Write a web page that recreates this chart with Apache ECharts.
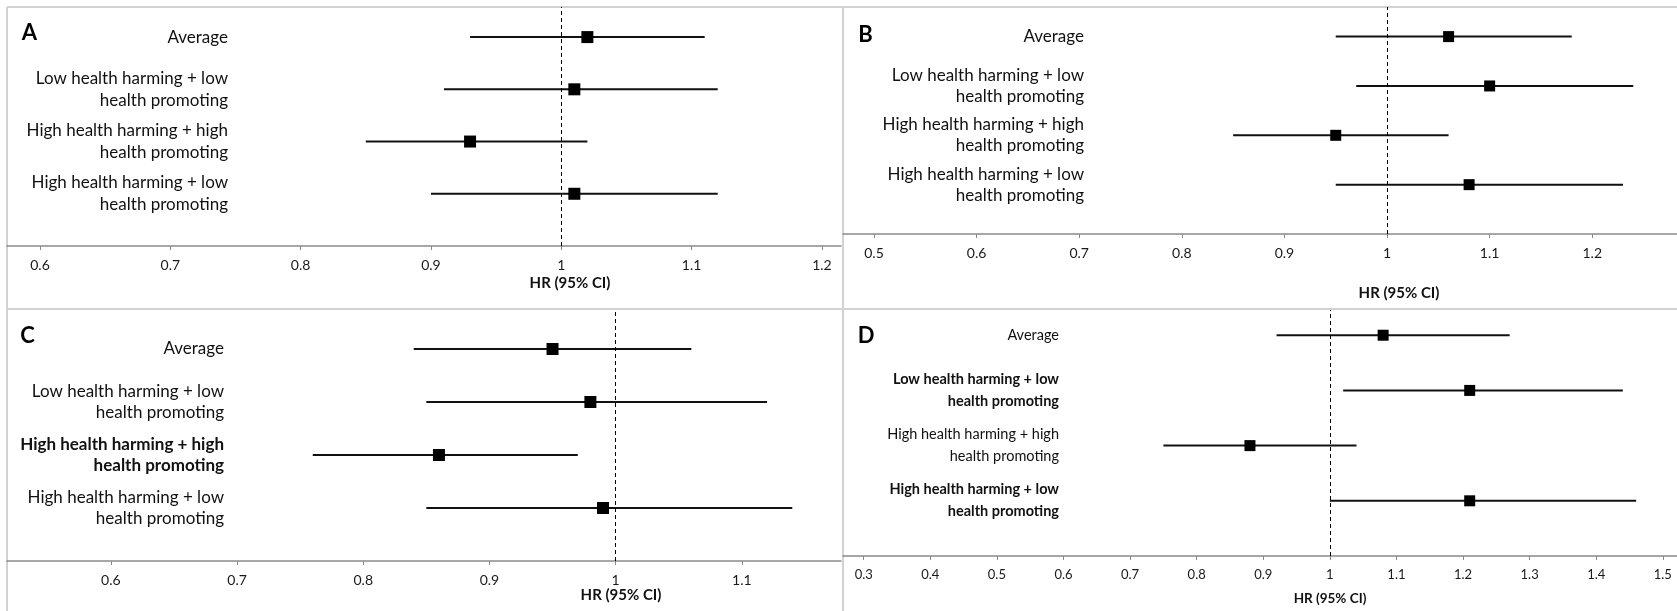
<!DOCTYPE html>
<html><head><meta charset="utf-8">
<script src="https://cdn.jsdelivr.net/npm/echarts@6/dist/echarts.min.js"></script>
<style>html,body{margin:0;padding:0;background:#fff}#c{width:1677px;height:611px}</style>
</head><body><div id="c"></div>
<script>
// ---------- data ----------
const rowLabels = [
  'Average',
  'Low health harming + low\nhealth promoting',
  'High health harming + high\nhealth promoting',
  'High health harming + low\nhealth promoting'
];
const rowPos = [4, 3, 2, 1];

const estA  = [1.02, 1.01, 0.93, 1.01];
const lowA  = [0.93, 0.91, 0.85, 0.90];
const highA = [1.11, 1.12, 1.02, 1.12];

const estB  = [1.06, 1.10, 0.95, 1.08];
const lowB  = [0.95, 0.97, 0.85, 0.95];
const highB = [1.18, 1.24, 1.06, 1.23];

const estC  = [0.95, 0.98, 0.86, 0.99];
const lowC  = [0.84, 0.85, 0.76, 0.85];
const highC = [1.06, 1.12, 0.97, 1.14];

const estD  = [1.08, 1.21, 0.88, 1.21];
const lowD  = [0.92, 1.02, 0.75, 1.00];
const highD = [1.27, 1.44, 1.04, 1.46];

const ticksA = [0.6, 0.7, 0.8, 0.9, 1, 1.1, 1.2];
const ticksB = [0.5, 0.6, 0.7, 0.8, 0.9, 1, 1.1, 1.2];
const ticksC = [0.6, 0.7, 0.8, 0.9, 1, 1.1];
const ticksD = [0.3, 0.4, 0.5, 0.6, 0.7, 0.8, 0.9, 1, 1.1, 1.2, 1.3, 1.4, 1.5];

const boldA = [], boldB = [], boldC = [2], boldD = [1, 3];
const panelLetters = ['A', 'B', 'C', 'D'];
const axisTitle = 'HR (95% CI)';
const refValue = 1;

// ---------- layout ----------
const FONT = 'Lato, "Noto Sans", sans-serif';
const panels = [
  {letter: panelLetters[0], est: estA, low: lowA, high: highA, ticks: ticksA, bold: boldA,
   left: 7, top: 7, width: 834, height: 239, xmin: 0.5747, xmax: 1.2146, ymax: 4.576,
   labelRight: 228, font: 17, lh: 22, tickFont: 14, titleFont: 15, sym: 12,
   letterPos: [29.5, 32.5], titlePos: [570, 283]},
  {letter: panelLetters[1], est: estB, low: lowB, high: highB, ticks: ticksB, bold: boldB,
   left: 843, top: 7, width: 834, height: 227, xmin: 0.4698, xmax: 1.2826, ymax: 4.60,
   labelRight: 1084, font: 17, lh: 21, tickFont: 14, titleFont: 15, sym: 11,
   letterPos: [865.5, 35], titlePos: [1399, 293]},
  {letter: panelLetters[2], est: estC, low: lowC, high: highC, ticks: ticksC, bold: boldC,
   left: 7, top: 310, width: 834, height: 251, xmin: 0.5177, xmax: 1.1786, ymax: 4.736,
   labelRight: 224, font: 17, lh: 21, tickFont: 14, titleFont: 15, sym: 12,
   letterPos: [27.5, 335.5], titlePos: [621, 595]},
  {letter: panelLetters[3], est: estD, low: lowD, high: highD, ticks: ticksD, bold: boldD,
   left: 843, top: 310, width: 834, height: 246, xmin: 0.2689, xmax: 1.5213, ymax: 4.457,
   labelRight: 1059, font: 14.5, lh: 22, tickFont: 13, titleFont: 13.5, sym: 11,
   letterPos: [866, 336], titlePos: [1330, 599]}
];

const grid = [], xAxis = [], yAxis = [], series = [], graphic = [];
const BORDER = '#d2d2d2';
graphic.push(
  {type: 'line', shape: {x1: 7, y1: 7, x2: 1677, y2: 7}, style: {stroke: BORDER, lineWidth: 2}},
  {type: 'line', shape: {x1: 7, y1: 7, x2: 7, y2: 611}, style: {stroke: BORDER, lineWidth: 2}},
  {type: 'line', shape: {x1: 843, y1: 7, x2: 843, y2: 611}, style: {stroke: BORDER, lineWidth: 2}},
  {type: 'line', shape: {x1: 7, y1: 309, x2: 1677, y2: 309}, style: {stroke: BORDER, lineWidth: 2}}
);

panels.forEach((p, k) => {
  grid.push({left: p.left, top: p.top, width: p.width, height: p.height, containLabel: false});
  xAxis.push({
    type: 'value', gridIndex: k, min: p.xmin, max: p.xmax,
    axisLine: {show: true, lineStyle: {color: '#8a8a8a', width: 1.5}},
    axisTick: {show: true, length: 4, customValues: p.ticks, lineStyle: {color: '#8a8a8a', width: 1}},
    axisLabel: {show: true, customValues: p.ticks, margin: 12, color: '#1a1a1a',
      fontFamily: FONT, fontSize: p.tickFont, formatter: v => String(+v.toFixed(2))},
    splitLine: {show: false}
  });
  const rich = {
    n: {fontFamily: FONT, fontSize: p.font, fontWeight: 'normal', color: '#111', align: 'right', lineHeight: p.lh},
    b: {fontFamily: FONT, fontSize: p.font, fontWeight: 'bold', color: '#111', align: 'right', lineHeight: p.lh}
  };
  yAxis.push({
    type: 'value', gridIndex: k, min: 0, max: p.ymax, interval: 1,
    axisLine: {show: false}, axisTick: {show: false}, splitLine: {show: false},
    axisLabel: {
      show: true, customValues: rowPos, margin: -(p.labelRight - p.left), align: 'right',
      rich: rich,
      formatter: v => {
        const i = rowPos.indexOf(Math.round(v));
        if (i < 0 || Math.abs(v - Math.round(v)) > 1e-6) return '';
        const tag = p.bold.indexOf(i) >= 0 ? 'b' : 'n';
        return rowLabels[i].split('\n').map(s => '{' + tag + '|' + s + '}').join('\n');
      }
    }
  });
  series.push({
    type: 'custom', xAxisIndex: k, yAxisIndex: k, silent: true, z: 2,
    data: p.low.map((l, i) => [l, p.high[i], rowPos[i]]),
    encode: {x: [0, 1], y: 2},
    renderItem: (params, api) => {
      const y = api.value(2);
      const a = api.coord([api.value(0), y]);
      const b = api.coord([api.value(1), y]);
      return {type: 'line', shape: {x1: a[0], y1: a[1], x2: b[0], y2: b[1]},
              style: {stroke: '#111', lineWidth: 2}};
    }
  });
  series.push({
    type: 'scatter', xAxisIndex: k, yAxisIndex: k, silent: true, z: 3,
    symbol: 'rect', symbolSize: p.sym, itemStyle: {color: '#000', opacity: 1},
    data: p.est.map((e, i) => [e, rowPos[i]]),
    markLine: {
      silent: true, symbol: 'none', label: {show: false},
      lineStyle: {color: '#000', type: [4, 3], width: 1},
      data: [{xAxis: refValue}]
    }
  });
  graphic.push({type: 'text', x: p.letterPos[0], y: p.letterPos[1],
    style: {text: p.letter, font: 'bold 22px ' + FONT, fill: '#000', align: 'center', verticalAlign: 'middle'}});
  graphic.push({type: 'text', x: p.titlePos[0], y: p.titlePos[1],
    style: {text: axisTitle, font: 'bold ' + p.titleFont + 'px ' + FONT, fill: '#111', align: 'center', verticalAlign: 'middle'}});
});

const chart = echarts.init(document.getElementById('c'), null, {renderer: 'canvas'});
chart.setOption({animation: false, backgroundColor: '#fff', grid, xAxis, yAxis, series, graphic});
</script>
</body></html>
